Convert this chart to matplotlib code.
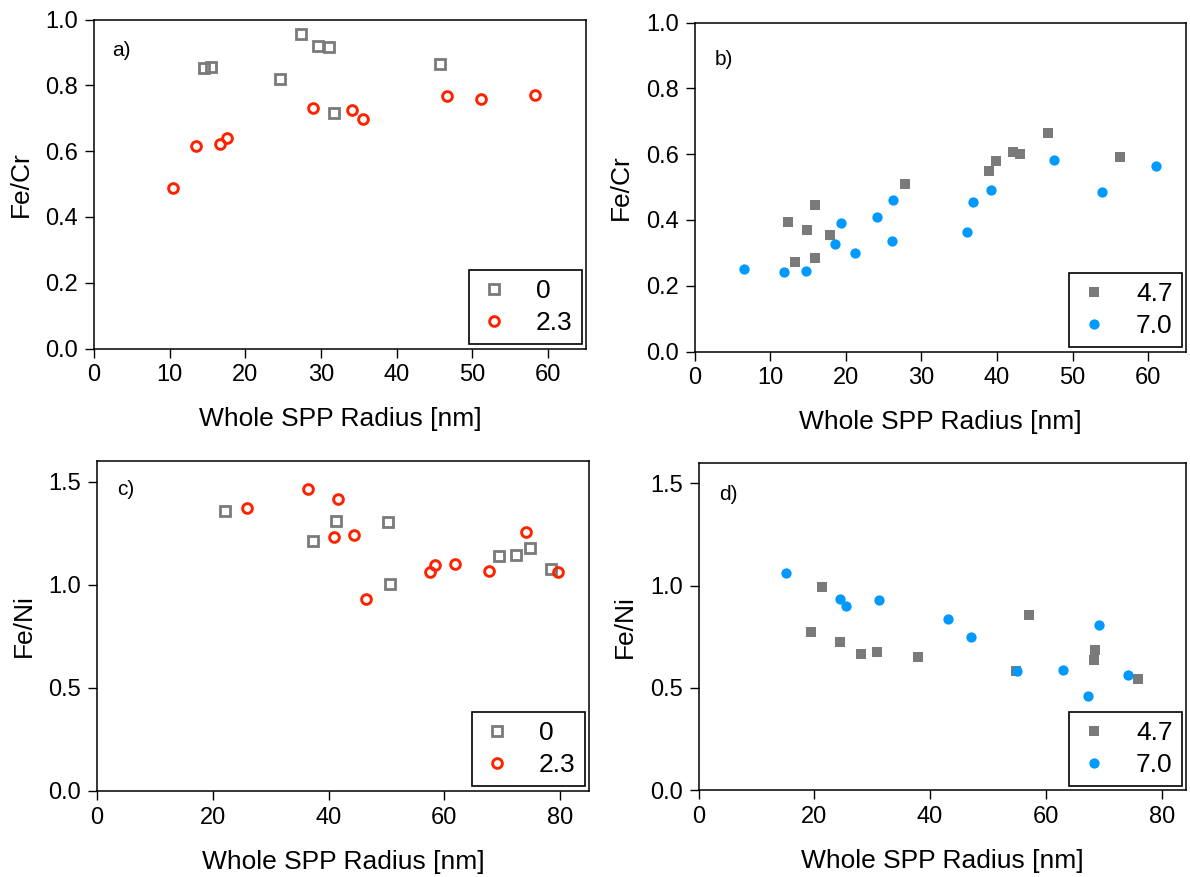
import matplotlib
matplotlib.use("Agg")
import matplotlib.pyplot as plt
from matplotlib.ticker import FormatStrFormatter

plt.rcParams['font.family'] = ['Liberation Sans', 'DejaVu Sans']

GRAY = '#7a7a7a'
RED = '#ff2200'
BLUE = '#0099ff'

# panel a) Fe/Cr, series 0 and 2.3
a_x0 = [14.5, 15.4, 27.4, 29.6, 31.1, 24.6, 31.7, 45.7]
a_y0 = [0.853, 0.856, 0.957, 0.918, 0.916, 0.820, 0.717, 0.865]
a_x23 = [10.4, 13.5, 16.7, 17.6, 28.9, 34.1, 35.6, 46.6, 51.1, 58.3]
a_y23 = [0.489, 0.615, 0.621, 0.640, 0.731, 0.724, 0.697, 0.767, 0.757, 0.770]

# panel b) Fe/Cr, series 4.7 and 7.0
b_x47 = [12.3, 13.3, 14.9, 16.0, 15.9, 17.9, 27.8, 38.9, 39.9, 42.1, 43.1, 46.7, 56.3]
b_y47 = [0.394, 0.272, 0.370, 0.447, 0.285, 0.354, 0.510, 0.550, 0.580, 0.607,
         0.602, 0.666, 0.592]
b_x70 = [6.6, 11.9, 14.7, 18.6, 19.4, 21.2, 24.2, 26.3, 26.1, 36.0, 36.8, 39.2,
         47.6, 53.9, 61.0]
b_y70 = [0.250, 0.241, 0.244, 0.327, 0.392, 0.299, 0.408, 0.461, 0.337, 0.364,
         0.455, 0.490, 0.583, 0.484, 0.565]

# panel c) Fe/Ni, series 0 and 2.3
c_x0 = [22.2, 37.3, 41.3, 50.2, 50.6, 69.5, 72.4, 74.8, 78.5]
c_y0 = [1.357, 1.214, 1.307, 1.304, 1.005, 1.138, 1.144, 1.178, 1.075]
c_x23 = [25.9, 36.4, 41.7, 40.9, 44.4, 46.4, 57.6, 58.4, 61.8, 67.8, 74.2, 79.6]
c_y23 = [1.372, 1.464, 1.417, 1.230, 1.243, 0.929, 1.060, 1.095, 1.102, 1.065,
         1.257, 1.063]

# panel d) Fe/Ni, series 4.7 and 7.0
d_x47 = [21.4, 19.4, 24.5, 28.1, 30.9, 37.9, 54.9, 57.1, 68.5, 68.3, 75.9]
d_y47 = [0.992, 0.773, 0.725, 0.667, 0.676, 0.653, 0.585, 0.856, 0.686, 0.639, 0.542]
d_x70 = [15.1, 24.5, 25.4, 31.1, 43.1, 47.0, 55.0, 63.0, 69.2, 67.3, 74.2]
d_y70 = [1.060, 0.934, 0.901, 0.929, 0.836, 0.749, 0.581, 0.589, 0.809, 0.463, 0.563]

W, H = 1190, 877
fig = plt.figure(figsize=(W / 100, H / 100), dpi=100)


def box(left, right, top, bottom):
    return [left / W, (H - bottom) / H, (right - left) / W, (bottom - top) / H]


open_sq = dict(ls='none', marker='s', ms=7, mew=2.0, mec=GRAY, mfc='none')
open_ci = dict(ls='none', marker='o', ms=7, mew=2.1, mec=RED, mfc='none')
fill_sq = dict(ls='none', marker='s', ms=6.8, mew=0, mfc=GRAY)
fill_ci = dict(ls='none', marker='o', ms=7.4, mew=0, mfc=BLUE)


def style(ax, xmax, ymax, xticks, yticks, ylabel, letter, lx, ly):
    ax.set_xlim(0, xmax)
    ax.set_ylim(0, ymax)
    ax.set_xticks(xticks)
    ax.set_yticks(yticks)
    ax.yaxis.set_major_formatter(FormatStrFormatter('%.1f'))
    for s in ax.spines.values():
        s.set_linewidth(1.1)
    ax.tick_params(direction='out', length=6.5, width=1, labelsize=17, pad=5)
    ax.set_xlabel('Whole SPP Radius [nm]', fontsize=19, labelpad=15)
    ax.set_ylabel(ylabel, fontsize=19, labelpad=9)
    ax.text(lx, ly, letter, transform=ax.transAxes, fontsize=15,
            ha='left', va='center')
    leg = ax.legend(loc='lower right', fontsize=19, frameon=True, fancybox=False,
                    edgecolor='black', framealpha=1, borderaxespad=0.16,
                    handlelength=1.2, handletextpad=1.0, labelspacing=0.3,
                    borderpad=0.35)
    leg.get_frame().set_linewidth(1.2)


ax_a = fig.add_axes(box(94, 586, 19.5, 348.5))
ax_a.plot(a_x0, a_y0, label='0', **open_sq)
ax_a.plot(a_x23, a_y23, label='2.3', **open_ci)
style(ax_a, 65, 1.0, range(0, 61, 10), [0, 0.2, 0.4, 0.6, 0.8, 1.0],
      'Fe/Cr', 'a)', 0.036, 0.907)

ax_b = fig.add_axes(box(694.5, 1186, 22.7, 351.5))
ax_b.plot(b_x47, b_y47, label='4.7', **fill_sq)
ax_b.plot(b_x70, b_y70, label='7.0', **fill_ci)
style(ax_b, 65, 1.0, range(0, 61, 10), [0, 0.2, 0.4, 0.6, 0.8, 1.0],
      'Fe/Cr', 'b)', 0.042, 0.887)

ax_c = fig.add_axes(box(97, 589, 461, 790.7))
ax_c.plot(c_x0, c_y0, label='0', **open_sq)
ax_c.plot(c_x23, c_y23, label='2.3', **open_ci)
style(ax_c, 85, 1.6, range(0, 81, 20), [0, 0.5, 1.0, 1.5],
      'Fe/Ni', 'c)', 0.040, 0.914)

ax_d = fig.add_axes(box(698.5, 1186, 462.9, 790.3))
ax_d.plot(d_x47, d_y47, label='4.7', **fill_sq)
ax_d.plot(d_x70, d_y70, label='7.0', **fill_ci)
style(ax_d, 84.2, 1.6, range(0, 81, 20), [0, 0.5, 1.0, 1.5],
      'Fe/Ni', 'd)', 0.043, 0.903)

fig.savefig('out.png', dpi=100)
